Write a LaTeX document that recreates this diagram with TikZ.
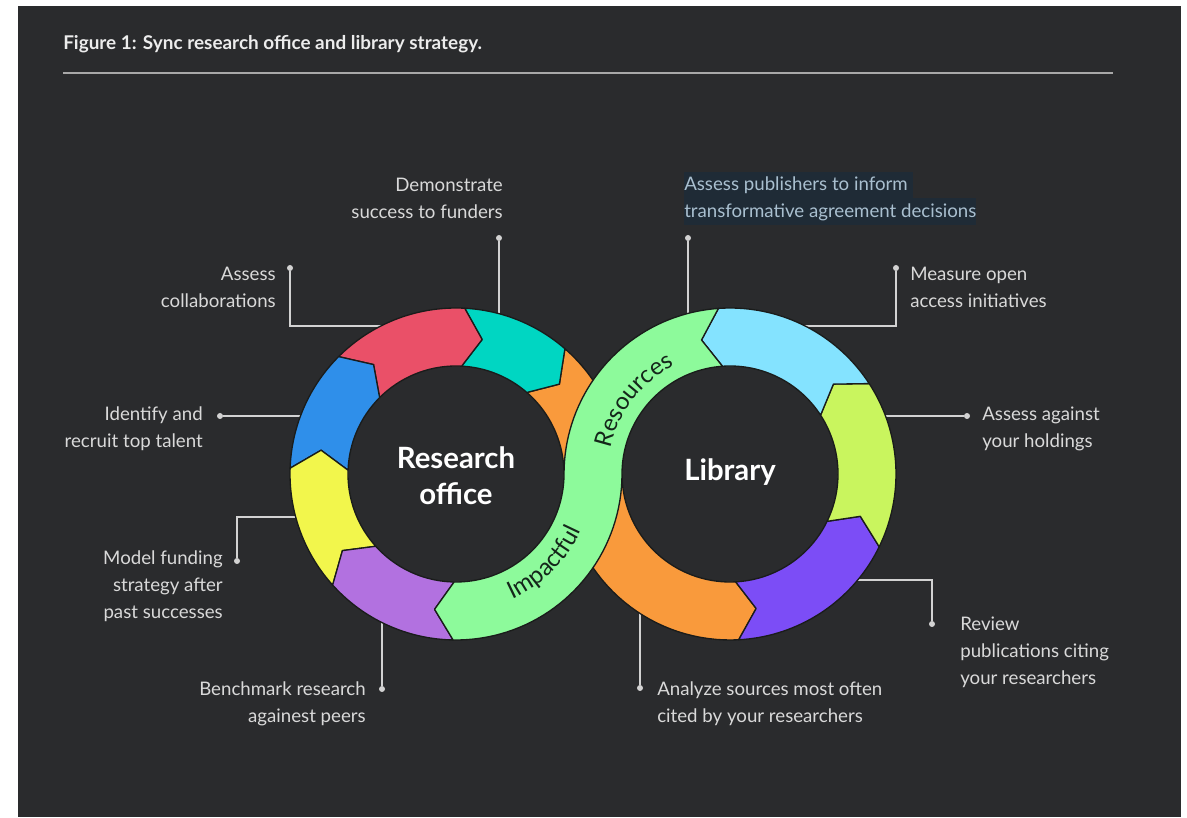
\documentclass[tikz,border=0pt]{standalone}
\usepackage{fontspec}
\setmainfont{Lato}
\usetikzlibrary{decorations.text}
\definecolor{bg}{HTML}{2A2B2D}
\definecolor{lblc}{HTML}{D9D9D9}
\definecolor{linec}{HTML}{D2D2D2}
\definecolor{rulec}{HTML}{A8A8A8}
\definecolor{titlec}{HTML}{ECECEC}
\definecolor{edgec}{HTML}{1A1C1B}
\definecolor{hlbg}{HTML}{1F2B36}
\definecolor{hltext}{HTML}{A9BFCF}
\definecolor{bandc}{HTML}{14261A}
\definecolor{cOrange}{HTML}{F99A3C}
\definecolor{cTeal}{HTML}{00D6C2}
\definecolor{cRed}{HTML}{EA5068}
\definecolor{cBlue}{HTML}{2F8FEA}
\definecolor{cYellow}{HTML}{F2F64C}
\definecolor{cPurple}{HTML}{B271E0}
\definecolor{cGreen}{HTML}{8DFA9B}
\definecolor{cSky}{HTML}{84E3FF}
\definecolor{cLime}{HTML}{C9F55E}
\definecolor{cViolet}{HTML}{7C4DF6}
\setlength{\fboxsep}{0pt}
\newcommand\bandfont{\fontsize{18}{18}\selectfont}
\newcommand\ringseg[6]{%
  \filldraw[fill=#2, segedge]
   plot[domain=#3:#4, samples=36] ({#1+166*cos(\x)},{343+166*sin(\x)})
   -- ({#1+137*cos(#4#5)},{343+137*sin(#4#5)})
   -- ({#1+108*cos(#4)},{343+108*sin(#4)})
   -- plot[domain=#4:#3, samples=36] ({#1+108*cos(\x)},{343+108*sin(\x)})
   -- ({#1+137*cos(#3#6)},{343+137*sin(#3#6)})
   -- cycle;}
\begin{document}
\begin{tikzpicture}[x=0.75pt,y=0.75pt,
  lbl/.style={text=lblc, font=\fontsize{14}{20.2}\selectfont, inner sep=0pt},
  dot/.style={circle, fill=linec, inner sep=0pt, minimum size=4.5pt},
  conn/.style={draw=linec, line width=1.2pt},
  segedge/.style={draw=edgec, line width=1pt, line join=round},
  centre/.style={text=white, font=\bfseries\fontsize{22}{27}\selectfont, align=center, inner sep=0pt}]
\useasboundingbox (0,0) rectangle (1187,817);
\fill[white] (0,0) rectangle (1187,817);
\fill[bg] (18,0) rectangle (1181,811);
% title and rule
\node[anchor=west, text=titlec, font=\bfseries\fontsize{14.2}{16}\selectfont, inner sep=0pt] (title) at (63,773) {Figure 1: Sync research office and library strategy.};
\coordinate (ruleA) at (63,744);
\coordinate (ruleB) at (1113,744);
\draw[rulec, line width=1.5pt] (ruleA) -- (ruleB);
% labels
\node[lbl, anchor=east, align=right] (t1) at (503,618.5) {Demonstrate\\success to funders};
\node[lbl, anchor=east, align=right] (t2) at (276,530) {Assess\\collaborations};
\node[lbl, anchor=east, align=right] (t3) at (203,388) {Identify and\\recruit top talent};
\node[lbl, anchor=east, align=right] (t4) at (223,231) {Model funding\\strategy after\\past successes};
\node[lbl, anchor=east, align=right] (t5) at (366,113.5) {Benchmark research\\againest peers};
\node[lbl, anchor=west, align=left, text=hltext] (t6) at (684,618.5) {\colorbox{hlbg}{\strut Assess publishers to inform\ }\\\colorbox{hlbg}{\strut transformative agreement decisions}};
\node[lbl, anchor=west, align=left] (t7) at (910,530) {Measure open\\access initiatives};
\node[lbl, anchor=west, align=left] (t8) at (982,388) {Assess against\\your holdings};
\node[lbl, anchor=west, align=left] (t9) at (960,165) {Review\\publications citing\\your researchers};
\node[lbl, anchor=west, align=left] (t10) at (657,113.5) {Analyze sources most often\\cited by your researchers};
% dots and ring anchors
\node[dot] (d1) at (499,579) {};  \coordinate (r1) at (499,500);
\node[dot] (d2) at (290,549) {};  \coordinate (r2) at (383,491);
\node[dot] (d3) at (220,401) {};  \coordinate (r3) at (303,401);
\node[dot] (d4) at (237,256) {};  \coordinate (r4) at (298,300);
\node[dot] (d5) at (382,128) {};  \coordinate (r5) at (382,197);
\node[dot] (d6) at (688,579) {};  \coordinate (r6) at (688,500);
\node[dot] (d7) at (896,549) {};  \coordinate (r7) at (803,491);
\node[dot] (d8) at (967,401) {};  \coordinate (r8) at (883,401);
\node[dot] (d9) at (932,193) {};  \coordinate (r9) at (855,237);
\node[dot] (d10) at (640,129) {}; \coordinate (r10) at (640,206);
\draw[conn] (d1) -- (r1);
\draw[conn] (d2) |- (r2);
\draw[conn] (d3) -- (r3);
\draw[conn] (d4) |- (r4);
\draw[conn] (d5) -- (r5);
\draw[conn] (d6) -- (r6);
\draw[conn] (d7) |- (r7);
\draw[conn] (d8) -- (r8);
\draw[conn] (d9) |- (r9);
\draw[conn] (d10) -- (r10);
% ring segments
\ringseg{456}{cOrange}{49}{0}{+0}{-8}
\ringseg{730}{cOrange}{180}{273}{+8}{+0}
\ringseg{456}{cTeal}{87}{49}{-8}{-8}
\ringseg{456}{cRed}{135}{87}{-8}{-8}
\ringseg{456}{cBlue}{178}{135}{-8}{-8}
\ringseg{456}{cYellow}{222}{178}{-8}{-8}
\ringseg{456}{cPurple}{269}{222}{-8}{-8}
\ringseg{730}{cViolet}{273}{334}{+8}{+8}
\ringseg{730}{cLime}{-26}{33}{+8}{+8}
\ringseg{730}{cSky}{33}{94}{+8}{+8}
% green S band
\filldraw[fill=cGreen, segedge]
  plot[domain=94:180, samples=40] ({730+166*cos(\x)},{343+166*sin(\x)})
  -- plot[domain=0:-91, samples=40] ({456+108*cos(\x)},{343+108*sin(\x)})
  -- ({456+137*cos(-99)},{343+137*sin(-99)})
  -- ({456+166*cos(-91)},{343+166*sin(-91)})
  -- plot[domain=-91:0, samples=40] ({456+166*cos(\x)},{343+166*sin(\x)})
  -- plot[domain=180:94, samples=40] ({730+108*cos(\x)},{343+108*sin(\x)})
  -- ({730+137*cos(102)},{343+137*sin(102)})
  -- cycle;
\begin{scope}[shift={(730,343)}]
\path[decorate, decoration={text along path, text align=center, text color=bandc, text={|\bandfont|Resources}}]
  (185:91.5pt) arc[start angle=185, end angle=100, radius=91.5pt];
\end{scope}
\begin{scope}[shift={(456,343)}]
\path[decorate, decoration={text along path, text align=center, text color=bandc, text={|\bandfont|Impactful}}]
  (-88:103pt) arc[start angle=-88, end angle=-2, radius=103pt];
\end{scope}
% centre texts
\node[centre] (ro) at (456,341) {Research\\office};
\node[centre] (lib) at (730,345) {Library};
\end{tikzpicture}
\end{document}
